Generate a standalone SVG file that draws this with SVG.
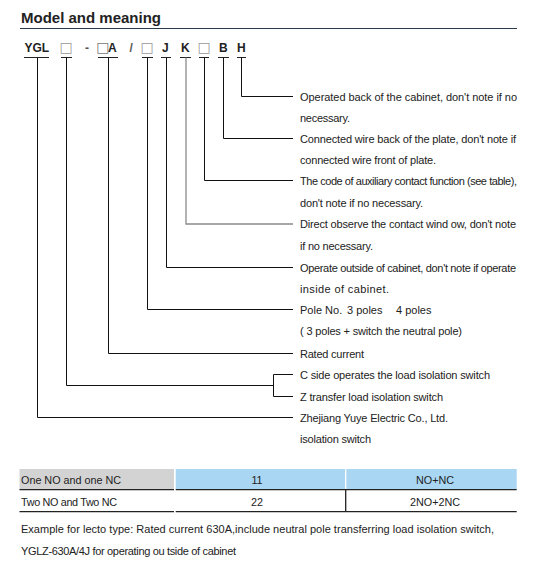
<svg xmlns="http://www.w3.org/2000/svg" width="549" height="570" viewBox="0 0 549 570">
<style>
.t{font-family:"Liberation Sans",Arial,sans-serif;font-size:11px;fill:#222}
.tb{font-family:"Liberation Sans",Arial,sans-serif;font-size:10.8px;fill:#222}
.code{font-family:"Liberation Sans",Arial,sans-serif;font-size:12px;font-weight:bold;fill:#222}
.sq{font-family:"DejaVu Sans",sans-serif;font-size:14px;font-weight:normal;fill:#999}
.ul{stroke:#222;stroke-width:1;fill:none}
.c{stroke:#111;stroke-width:1;fill:none}
.cg{stroke:#8a8a8a;stroke-width:1.3;fill:none}
.rl{stroke:#222;stroke-width:1.3;fill:none}
</style>
<rect width="549" height="570" fill="#fff"/>
<g id="title">
<text x="21" y="22.7" style="font-family:'Liberation Sans',Arial,sans-serif;font-size:15px;font-weight:bold;fill:#222">Model and meaning</text>
<line x1="20" y1="28.5" x2="517" y2="28.5" stroke="#2b3b4b" stroke-width="1.2"/>
</g>
<g id="code-YGL"><text class="code" x="24.5" y="52">YGL</text><line class="ul" x1="24" y1="57.5" x2="49" y2="57.5"/></g>
<g id="code-type"><text class="sq" x="59.5" y="52">□</text><line class="ul" x1="61" y1="57.5" x2="72" y2="57.5"/></g>
<g id="code-dash"><text class="code" x="85" y="52" style="fill:#555">-</text></g>
<g id="code-current"><text class="code" y="52"><tspan class="sq" x="96.3" style="fill:#777">□</tspan><tspan x="108">A</tspan></text><line class="ul" x1="98" y1="57.5" x2="118" y2="57.5"/></g>
<g id="code-slash"><text class="code" x="129.5" y="52" style="fill:#555">/</text></g>
<g id="code-pole"><text class="sq" x="140.6" y="52">□</text><line class="ul" x1="142" y1="57.5" x2="153" y2="57.5"/></g>
<g id="code-J"><text class="code" x="162" y="52">J</text><line class="ul" x1="161" y1="57.5" x2="171" y2="57.5"/></g>
<g id="code-K"><text class="code" x="181" y="52">K</text><line class="ul" x1="180" y1="57.5" x2="191" y2="57.5"/></g>
<g id="code-aux"><text class="sq" x="197.6" y="52">□</text><line class="ul" x1="199" y1="57.5" x2="209" y2="57.5"/></g>
<g id="code-B"><text class="code" x="219" y="52">B</text><line class="ul" x1="218" y1="57.5" x2="229" y2="57.5"/></g>
<g id="code-H"><text class="code" x="237" y="52">H</text><line class="ul" x1="237" y1="57.5" x2="246" y2="57.5"/></g>

<g id="connectors">
<path class="c" d="M241.5 57.5V96.5H293"/>
<path class="c" d="M223.5 57.5V138.5H293"/>
<path class="c" d="M204.5 57.5V180.5H293"/>
<path class="cg" d="M186 57.5V224H293"/>
<path class="c" d="M166.5 57.5V267.5H293"/>
<path class="c" d="M147.5 57.5V309.5H293"/>
<path class="c" d="M108.5 57.5V353.5H293"/>
<path class="c" d="M66.5 57.5V385.5H273.5"/>
<path class="c" d="M293 374.5H273.5V396.5H293"/>
<path class="c" d="M37.5 57.5V417.5H293"/>
</g>

<g id="desc-H"><text class="t" x="300" y="100.5" textLength="217">Operated back of the cabinet, don't note if no</text><text class="t" x="300" y="121.9" textLength="50">necessary.</text></g>
<g id="desc-B"><text class="t" x="300" y="142.5" textLength="216">Connected wire back of the plate, don't note if</text><text class="t" x="300" y="164" textLength="136">connected wire front of plate.</text></g>
<g id="desc-aux"><text class="t" x="300" y="185" textLength="217">The code of auxiliary contact function (see table),</text><text class="t" x="300" y="206.5" textLength="123">don't note if no necessary.</text></g>
<g id="desc-K"><text class="t" x="300" y="228" textLength="216">Direct observe the contact wind ow, don't note</text><text class="t" x="300" y="249.5" textLength="73">if no necessary.</text></g>
<g id="desc-J"><text class="t" x="300" y="271.5" textLength="216">Operate outside of cabinet, don't note if operate</text><text class="t" x="300" y="293" textLength="89">inside of cabinet.</text></g>
<g id="desc-pole"><text class="t" y="313.5"><tspan x="300">Pole No.</tspan><tspan x="347">3 poles</tspan><tspan x="396">4 poles</tspan></text><text class="t" x="300" y="335" textLength="162">( 3 poles + switch the neutral pole)</text></g>
<g id="desc-current"><text class="t" x="300" y="357.5" textLength="64">Rated current</text></g>
<g id="desc-type"><text class="t" x="300" y="378.5" textLength="190">C side operates the load isolation switch</text><text class="t" x="300" y="400.5" textLength="143">Z transfer load isolation switch</text></g>
<g id="desc-YGL"><text class="t" x="300" y="421.5" textLength="148">Zhejiang Yuye Electric Co., Ltd.</text><text class="t" x="300" y="443" textLength="71">isolation switch</text></g>

<g id="table">
<rect x="19.5" y="469" width="154.5" height="20.5" fill="#d3d3d3"/>
<rect x="175.7" y="469" width="341" height="20.5" fill="#a9d6f3"/>
<line x1="345.7" y1="469" x2="345.7" y2="489.5" stroke="#fff" stroke-width="1.3"/>
<line class="rl" x1="19.5" y1="489.7" x2="174" y2="489.7"/>
<line class="rl" x1="175.7" y1="489.7" x2="516.7" y2="489.7"/>
<line class="rl" x1="19.5" y1="511.7" x2="174" y2="511.7"/>
<line class="rl" x1="175.7" y1="511.7" x2="516.7" y2="511.7"/>
<line class="rl" x1="345.7" y1="490" x2="345.7" y2="511.5"/>
<text class="tb" x="21" y="484.2" textLength="100">One NO and one NC</text>
<text class="tb" x="257" y="484.2" text-anchor="middle">11</text>
<text class="tb" x="435" y="484.2" text-anchor="middle">NO+NC</text>
<text class="tb" x="21" y="505.6" textLength="96">Two NO and Two NC</text>
<text class="tb" x="257" y="505.6" text-anchor="middle">22</text>
<text class="tb" x="435" y="505.6" text-anchor="middle">2NO+2NC</text>
</g>
<g id="example">
<text class="t" x="21" y="533" textLength="473">Example for lecto type: Rated current 630A,include neutral pole transferring load isolation switch,</text>
<text class="t" x="21" y="554.5" textLength="215">YGLZ-630A/4J for operating ou tside of cabinet</text>
</g>
</svg>
